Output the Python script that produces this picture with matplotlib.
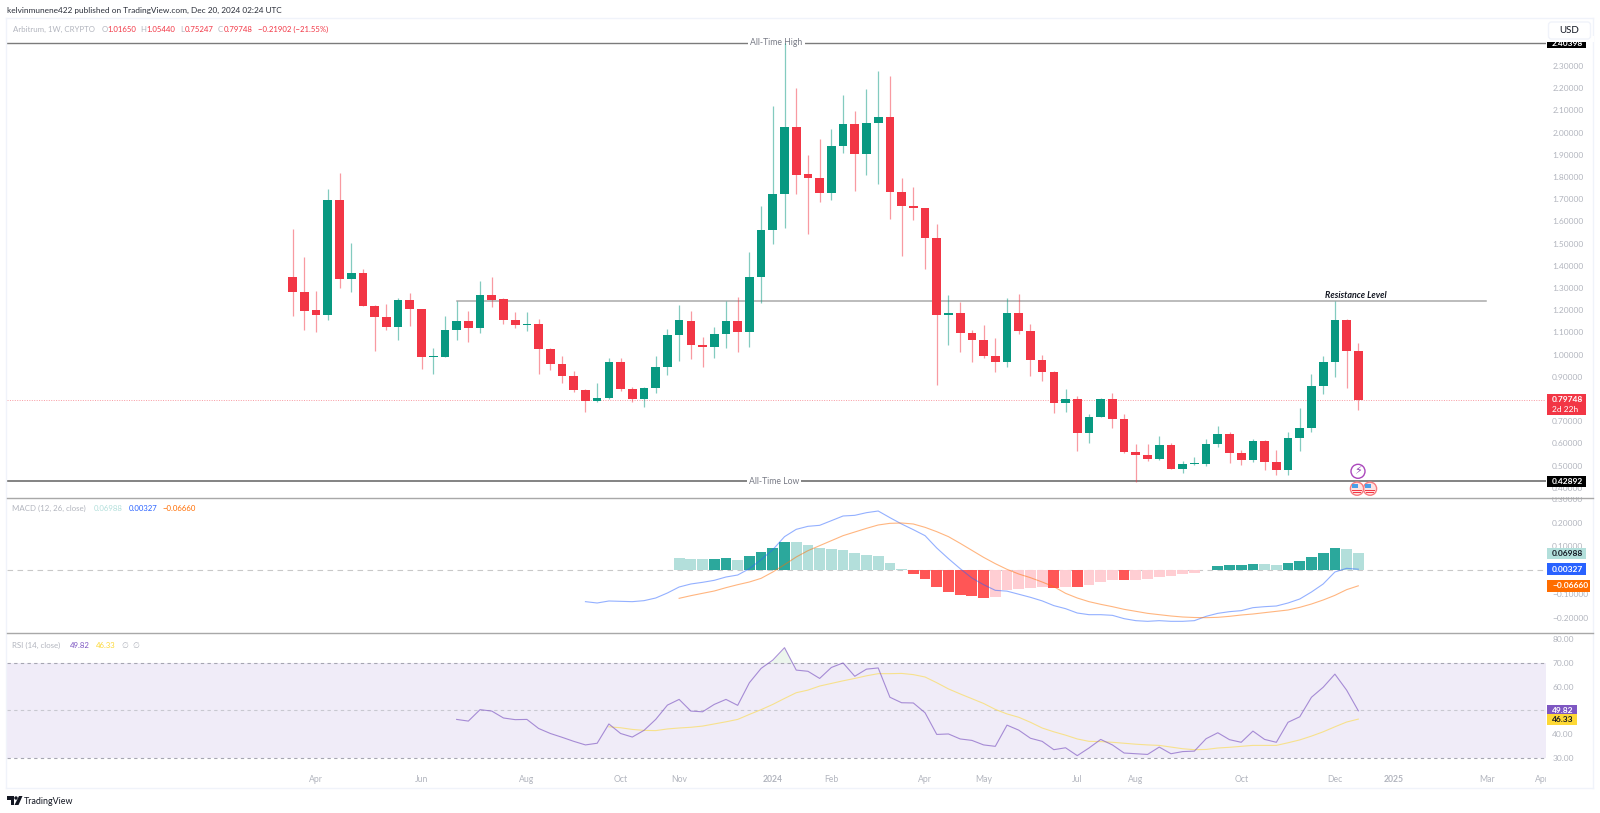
import matplotlib
matplotlib.use("Agg")
import matplotlib.pyplot as plt
import numpy as np
from matplotlib.patches import Rectangle, Circle, Polygon, FancyBboxPatch

plt.rcParams['font.family'] = ['Lato', 'DejaVu Sans']

# weekly candles
opens = [1.351,1.280,1.199,1.180,1.696,1.339,1.368,1.220,1.168,1.124,1.246,1.205,0.989,0.989,1.111,1.150,
         1.121,1.270,1.249,1.156,1.133,1.139,1.027,0.956,0.904,0.841,0.791,0.803,0.965,0.844,0.800,0.851,
         0.946,1.087,1.153,1.043,1.034,1.094,1.153,1.102,1.351,1.560,1.722,2.027,1.812,1.797,1.726,1.940,
         2.039,1.902,2.042,2.070,1.734,1.669,1.659,1.527,1.177,1.186,1.099,1.067,0.994,0.968,1.189,1.108,
         0.977,0.921,0.782,0.798,0.647,0.720,0.801,0.711,0.561,0.548,0.531,0.594,0.485,0.506,0.507,0.597,
         0.642,0.558,0.525,0.611,0.516,0.479,0.626,0.669,0.860,0.965,1.156,1.0165]
highs = [1.566,1.441,1.286,1.744,1.817,1.501,1.386,1.225,1.228,1.253,1.276,1.207,1.031,1.174,1.243,1.196,
         1.332,1.350,1.253,1.193,1.193,1.162,1.031,0.994,0.926,0.844,0.871,0.983,0.985,0.853,0.853,0.994,
         1.115,1.222,1.196,1.081,1.123,1.243,1.258,1.464,1.669,2.118,2.404,2.202,1.898,1.971,2.018,2.171,
         2.099,2.195,2.278,2.255,1.797,1.755,1.660,1.588,1.267,1.238,1.111,1.132,1.073,1.256,1.271,1.138,
         0.997,0.925,0.845,0.812,0.732,0.803,0.825,0.731,0.597,0.597,0.633,0.600,0.521,0.540,0.620,0.680,
         0.651,0.570,0.618,0.615,0.569,0.650,0.759,0.911,0.994,1.243,1.159,1.0544]
lows = [1.174,1.111,1.102,1.154,1.302,1.283,1.218,1.018,1.111,1.067,1.129,0.934,0.913,0.987,1.064,1.058,
        1.096,1.213,1.139,1.118,1.108,0.913,0.931,0.874,0.832,0.742,0.785,0.799,0.838,0.788,0.766,0.829,
        0.908,0.973,0.980,0.946,0.985,1.030,1.013,1.033,1.231,1.497,1.572,1.723,1.543,1.689,1.696,1.907,
        1.735,1.808,1.767,1.612,1.446,1.608,1.384,0.865,1.043,1.012,0.967,0.983,0.923,0.946,1.093,0.902,
        0.880,0.739,0.741,0.566,0.603,0.719,0.671,0.555,0.428,0.519,0.527,0.484,0.467,0.501,0.500,0.585,
        0.513,0.503,0.515,0.480,0.459,0.459,0.566,0.650,0.824,0.899,0.850,0.75247]
closes = [1.280,1.196,1.180,1.696,1.341,1.368,1.220,1.168,1.124,1.246,1.205,0.989,0.992,1.111,1.150,1.121,
          1.270,1.247,1.154,1.133,1.136,1.027,0.956,0.904,0.841,0.793,0.805,0.965,0.844,0.799,0.851,0.946,
          1.087,1.156,1.043,1.034,1.094,1.153,1.102,1.351,1.560,1.722,2.027,1.811,1.797,1.726,1.940,2.039,
          1.902,2.042,2.070,1.734,1.668,1.660,1.527,1.177,1.187,1.099,1.067,0.994,0.968,1.189,1.108,0.977,
          0.922,0.782,0.798,0.647,0.720,0.801,0.711,0.560,0.548,0.531,0.594,0.485,0.506,0.510,0.597,0.642,
          0.558,0.525,0.611,0.518,0.479,0.626,0.669,0.860,0.965,1.156,1.016,0.79748]

# macd panel
macd_hist = [0.0505,0.0477,0.0449,0.0463,0.0505,0.0435,0.0604,0.0758,0.0940,0.1193,0.1179,0.1067,0.0912,0.0898,
             0.0856,0.0716,0.0646,0.0604,0.0309,0.0056,-0.0168,-0.0365,-0.0730,-0.0926,-0.1053,-0.1109,-0.1165,
             -0.1137,-0.0856,-0.0800,-0.0758,-0.0730,-0.0772,-0.0702,-0.0730,-0.0646,-0.0519,-0.0433,-0.0440,
             -0.0407,-0.0379,-0.0281,-0.0239,-0.0182,-0.0112,-0.0014,0.0154,0.0196,0.0197,0.0267,0.0253,0.0211,
             0.0309,0.0393,0.0533,0.0702,0.0912,0.0884,0.06988]
macd_line = [-0.1333,-0.1389,-0.1305,-0.1319,-0.1333,-0.1291,-0.1179,-0.0968,-0.0716,-0.0589,-0.0519,-0.0435,
             -0.0295,-0.0211,0.0056,0.0435,0.0856,0.1404,0.1712,0.1839,0.1881,0.2077,0.2274,0.2302,0.2414,
             0.2484,0.2204,0.1937,0.1698,0.1446,0.0926,0.0477,0.0056,-0.0337,-0.0618,-0.0856,-0.089,-0.102,
             -0.115,-0.130,-0.150,-0.1628,-0.1811,-0.1881,-0.1881,-0.1909,-0.2049,-0.2133,-0.2161,-0.2133,
             -0.2161,-0.2161,-0.2133,-0.1951,-0.1825,-0.1754,-0.1712,-0.1586,-0.1544,-0.1516,-0.1389,-0.1221,
             -0.0926,-0.0589,-0.0084,0.0070,0.00327]
macd_signal = [-0.1193,-0.1081,-0.0982,-0.0884,-0.0744,-0.0618,-0.0505,-0.0351,-0.0084,0.0225,0.0547,0.0814,
               0.1025,0.1235,0.1446,0.1600,0.1754,0.1895,0.1965,0.1979,0.1937,0.1796,0.1614,0.1404,0.1123,
               0.0828,0.0533,0.0267,0.0028,-0.0168,-0.0323,-0.0505,-0.0702,-0.0982,-0.1179,-0.1333,-0.1445,
               -0.1544,-0.1656,-0.1740,-0.1825,-0.1881,-0.1937,-0.1979,-0.2000,-0.2007,-0.1993,-0.1951,-0.1895,
               -0.1853,-0.1796,-0.1740,-0.1684,-0.1572,-0.1432,-0.1263,-0.1067,-0.0828,-0.0666]

# rsi panel
rsi_line = [46.2,45.5,50.3,49.7,46.8,46.1,46.2,42.4,40.3,38.7,37.0,35.5,36.2,44.3,40.3,38.8,41.6,46.2,52.2,54.6,
            49.7,49.4,52.5,54.6,52.1,61.6,67.6,71.1,76.3,66.9,66.4,63.4,68.0,69.9,64.3,67.3,67.8,55.5,53.2,53.1,
            49.0,39.9,40.1,38.0,37.4,35.5,34.9,43.8,41.7,38.3,37.0,33.5,34.3,31.0,34.2,37.8,35.5,32.1,31.8,31.5,
            34.6,31.8,32.7,32.9,38.1,40.6,37.7,36.6,41.3,37.8,36.6,45.0,47.3,55.5,59.7,65.2,58.5,49.82]
rsi_ma = [43.1,42.7,42.0,41.6,41.5,42.2,42.6,42.9,43.4,44.3,45.2,46.2,48.3,50.3,52.5,55.0,57.4,58.5,60.2,61.3,
          62.4,63.4,64.5,65.4,65.4,65.5,65.0,64.0,61.6,59.0,56.9,54.9,52.9,50.4,48.5,47.1,45.0,42.6,41.0,39.6,
          38.0,37.0,36.9,36.6,36.2,35.8,35.5,35.3,34.6,33.9,33.5,33.6,34.2,34.5,34.9,35.3,35.3,35.3,36.4,37.6,
          39.2,41.0,43.1,45.1,46.33]

price_ticks = [0.4,0.5,0.6,0.7,0.8,0.9,1.0,1.1,1.2,1.3,1.4,1.5,1.6,1.7,1.8,1.9,2.0,2.1,2.2,2.3,2.4]
macd_ticks = [-0.2,-0.1,0.1,0.2,0.3]
rsi_ticks = [30,40,50,60,70,80]
time_pos = [2,11,20,28,33,41,46,54,59,67,72,81,89,94,102,106.7]
time_labels = ['Apr','Jun','Aug','Oct','Nov','2024','Feb','Apr','May','Jul','Aug','Oct','Dec','2025','Mar','Apr']

ath = 2.40398
atl = 0.42892
resistance = 1.2417
last_close = 0.79748

GREEN = '#089981'
RED = '#F23645'
GREY = '#b2b5be'

W, H = 1600, 813
fig = plt.figure(figsize=(16, 8.13), dpi=100)

# bar index <-> pixels
X0 = 292.7
STEP = 11.71
PANE_L, PANE_R = 7, 1546
xlim = ((PANE_L - X0) / STEP, (PANE_R - X0) / STEP)

def make_pane(top, bottom, ylim):
  ax = fig.add_axes([PANE_L / W, 1 - bottom / H, (PANE_R - PANE_L) / W, (bottom - top) / H])
  ax.set_xlim(xlim)
  ax.set_ylim(ylim)
  ax.patch.set_alpha(0)
  for s in ax.spines.values():
    s.set_visible(False)
  ax.xaxis.set_visible(False)
  ax.yaxis.tick_right()
  ax.tick_params(axis='y', length=0, pad=4.5, labelsize=6.0, labelcolor=GREY)
  return ax

def to_y(val, y_ref, scale, v_ref):
  return y_ref + (v_ref - val) * scale

# price pane
PRICE = dict(y_ref=66, scale=222.0, v_ref=2.3)
ax1 = make_pane(18, 497.7, (2.3 - (497.7 - 66) / 222, 2.3 + 48 / 222))
n = len(opens)
xs = np.arange(n)
colors = [GREEN if closes[i] >= opens[i] else RED for i in range(n)]
ax1.vlines(xs, lows, highs, colors=colors, lw=0.9, alpha=0.5, zorder=6)
ax1.bar(xs, np.abs(np.array(closes) - np.array(opens)), bottom=np.minimum(opens, closes),
        width=0.74, color=colors, edgecolor='none', zorder=7)
ax1.axhline(ath, color='#7b7b7b', lw=1.0, zorder=2)
ax1.axhline(atl, color='#6e6e6e', lw=1.2, zorder=2)
ax1.plot([14, 101.9], [resistance, resistance], color='#a9a9a9', lw=1.1, zorder=2)
ax1.axhline(last_close, color=RED, lw=0.7, ls=(0, (1, 1.5)), alpha=0.5, zorder=2)
ax1.set_yticks(price_ticks)
ax1.set_yticklabels(['%.5f' % t for t in price_ticks])
ax1.text(41.3, ath, 'All-Time High', ha='center', va='center', fontsize=6.2, color='#787b86', zorder=5,
         bbox=dict(fc='white', ec='none', pad=1.5))
ax1.text(41.1, atl, 'All-Time Low', ha='center', va='center', fontsize=6.2, color='#787b86', zorder=5,
         bbox=dict(fc='white', ec='none', pad=1.5))
ax1.text(90.8, resistance + 0.002, 'Resistance Level', ha='center', va='bottom', fontsize=6.4, style='italic',
         fontweight='bold', color='#131722', zorder=5)

# macd pane
MACD = dict(y_ref=570, scale=237.5, v_ref=0)
ax2 = make_pane(497.7, 633.3, ((570 - 633.3) / 237.5, (570 - 497.7) / 237.5))
hist_x = np.arange(n - len(macd_hist), n)
hist_cols = []
for i, v in enumerate(macd_hist):
  rising = i > 0 and v > macd_hist[i - 1]
  if v >= 0:
    hist_cols.append('#26a69a' if rising else '#b2dfdb')
  else:
    hist_cols.append('#ffcdd2' if rising else '#ff5252')
ax2.bar(hist_x, macd_hist, width=0.92, color=hist_cols, edgecolor='none', alpha=0.98, zorder=2)
ax2.axhline(0, color='#c8c8c8', lw=0.8, ls=(0, (5, 4)), zorder=1)
ax2.plot(np.arange(n - len(macd_line), n), macd_line, color='#2962ff', lw=0.8, alpha=0.5, zorder=3)
ax2.plot(np.arange(n - len(macd_signal), n), macd_signal, color='#ff6d00', lw=0.8, alpha=0.5, zorder=3)
ax2.set_yticks(macd_ticks)
ax2.set_yticklabels([('%.5f' % t).replace('-', '\u2212') for t in macd_ticks])

# rsi pane
RSI = dict(y_ref=662.7, scale=2.383, v_ref=70)
ax3 = make_pane(633.3, 788, (70 - (788 - 662.7) / 2.383, 70 + (662.7 - 633.3) / 2.383))
ax3.axhspan(30, 70, color='#7e57c2', alpha=0.11, lw=0, zorder=1)
rsi_x = np.arange(n - len(rsi_line), n)
ax3.fill_between(rsi_x, 70, rsi_line, where=np.array(rsi_line) > 70, interpolate=True, color='#4caf50', alpha=0.1, lw=0)
for lev, c in [(70, '#a6a6b2'), (30, '#a6a6b2'), (50, '#c8c8d0')]:
  ax3.axhline(lev, color=c, lw=0.8, ls=(0, (3, 3)), zorder=2)
ax3.plot(rsi_x, rsi_line, color='#7e57c2', lw=0.8, alpha=0.65, zorder=4)
ax3.plot(np.arange(n - len(rsi_ma), n), rsi_ma, color='#fdd835', lw=0.8, alpha=0.55, zorder=3)
ax3.set_yticks(rsi_ticks)
ax3.set_yticklabels(['%.2f' % t for t in rsi_ticks])
trans = ax3.get_xaxis_transform()
for p, lab in zip(time_pos, time_labels):
  ax3.text(p, (788 - 779) / (788 - 633.3), lab, transform=trans, ha='center', va='center',
           fontsize=6.2, color=GREY, clip_on=True, fontweight='bold' if lab in ('2024', '2025') else 'normal')

# overlay in pixel coordinates for frame, tags, legend text
ov = fig.add_axes([0, 0, 1, 1], zorder=10)
ov.set_xlim(0, W)
ov.set_ylim(H, 0)
ov.axis('off')

for a, b, c, d in [(6, 18, 1593, 18), (1593, 18, 1593, 788), (6, 788, 1593, 788), (6, 18, 6, 788)]:
  ov.plot([a, c], [b, d], color='#f0f3fa', lw=1.0)
ov.plot([7, 1593], [497.7, 497.7], color='#a8a8a8', lw=1.0)
ov.plot([7, 1593], [633.3, 633.3], color='#a8a8a8', lw=1.0)
ov.add_patch(Rectangle((1550, 491.5), 40, 5.5, fc='white', ec='none'))

def tag(y0, y1, x1, col):
  ov.add_patch(Rectangle((1547, y0), x1 - 1547, y1 - y0, fc=col, ec='none', zorder=5))

def tag_text(y, s, col, fs=6.0, **kw):
  ov.text(1552, y, s, color=col, fontsize=fs, va='center', ha='left', zorder=6, **kw)

y = to_y(ath, **PRICE)
tag(y - 5, y + 5.5, 1585.7, 'black')
tag_text(y + 0.5, '%.5f' % ath, 'white', fontweight='bold')
ov.add_patch(Rectangle((1546, 36), 48, 5.7, fc='white', ec='none', zorder=7))
ov.add_patch(FancyBboxPatch((1548.5, 22), 42, 17, boxstyle='round,pad=0,rounding_size=3', fc='white', ec='#f0f3fa', lw=1, zorder=8))
ov.text(1569, 30.5, 'USD', fontsize=7.0, color='#131722', ha='center', va='center', zorder=9)

y = to_y(last_close, **PRICE)
tag(y - 5.5, y + 15.5, 1585.7, RED)
tag_text(y, '%.5f' % last_close, 'white', fontweight='bold')
tag_text(y + 10, '2d 22h', 'white')

y = to_y(atl, **PRICE)
tag(y - 5.7, y + 5.7, 1585.7, 'black')
tag_text(y, '%.5f' % atl, 'white', fontweight='bold')

y = to_y(macd_hist[-1], **MACD)
tag(y - 5.8, y + 5.8, 1585.7, '#b2dfdb')
tag_text(y, '%.5f' % macd_hist[-1], '#131722', fontweight='bold')
y = to_y(macd_line[-1], **MACD)
tag(y - 5.8, y + 5.8, 1585.7, '#2962ff')
tag_text(y, '%.5f' % macd_line[-1], 'white', fontweight='bold')
y = to_y(macd_signal[-1], **MACD)
tag(y - 5.8, y + 5.8, 1590, '#ff6d00')
tag_text(y, '\u2212%.5f' % abs(macd_signal[-1]), 'white', fontweight='bold')

y = to_y(rsi_line[-1], **RSI)
tag(y - 5.6, y + 5.6, 1576.5, '#7e57c2')
tag_text(y, '%.2f' % rsi_line[-1], 'white', fontweight='bold')
y = to_y(rsi_ma[-1], **RSI)
tag(y - 5.6, y + 5.6, 1576.5, '#fdd835')
tag_text(y, '%.2f' % rsi_ma[-1], '#131722', fontweight='bold')

# event icons
ov.add_patch(Circle((1358, 471.3), 7, fc='white', ec='#ab47bc', lw=1.0, zorder=5))
ov.text(1358, 471.3, '\u26a1', fontsize=8, color='#8e44ad', ha='center', va='center', family='DejaVu Sans', zorder=6)
for cx in (1370, 1357):
  ov.add_patch(Circle((cx, 488.7), 6.6, fc='#ffe3e3', ec='#f77c80', lw=1.0, zorder=5))
  ov.add_patch(Rectangle((cx - 5, 484), 6, 4.2, fc='#4a9fe8', ec='none', zorder=6))
  ov.add_patch(Rectangle((cx - 5, 489.5), 10, 1.2, fc='#f23645', ec='none', zorder=6))
  ov.add_patch(Rectangle((cx - 4, 492), 8, 1.0, fc='#f23645', ec='none', zorder=6))

# header + legends
ov.text(7, 10, 'kelvinmunene422 published on TradingView.com, Dec 20, 2024 02:24 UTC', fontsize=5.95, color='#2a2e39', va='center')
LEG_Y = 29.3
ov.text(12.7, LEG_Y, 'Arbitrum, 1W, CRYPTO', fontsize=5.7, color=GREY, va='center')
for x_l, lab, x_v, val in [(101.7, 'O', 107.3, opens[-1]), (140.7, 'H', 146.7, highs[-1]),
                           (180, 'L', 185, lows[-1]), (218, 'C', 224, closes[-1])]:
  ov.text(x_l, LEG_Y, lab, fontsize=5.6, color=GREY, va='center')
  ov.text(x_v, LEG_Y, '%.5f' % val, fontsize=5.6, color=RED, va='center')
ov.text(257.7, LEG_Y, '\u22120.21902 (\u221221.55%)', fontsize=5.6, color=RED, va='center')

ov.text(12, 508.3, 'MACD (12, 26, close)', fontsize=5.7, color=GREY, va='center')
ov.text(94, 508.3, '%.5f' % macd_hist[-1], fontsize=5.6, color='#b2dfdb', va='center')
ov.text(128.6, 508.3, '%.5f' % macd_line[-1], fontsize=5.6, color='#2962ff', va='center')
ov.text(162.6, 508.3, '\u2212%.5f' % abs(macd_signal[-1]), fontsize=5.6, color='#ff6d00', va='center')

ov.text(12.2, 645, 'RSI (14, close)', fontsize=5.7, color=GREY, va='center')
ov.text(70, 645, '%.2f' % rsi_line[-1], fontsize=5.6, color='#7e57c2', va='center')
ov.text(95.4, 645, '%.2f' % rsi_ma[-1], fontsize=5.6, color='#fdd835', va='center')
ov.text(121, 645, '\u2205', fontsize=5.6, color=GREY, va='center')
ov.text(132.6, 645, '\u2205', fontsize=5.6, color=GREY, va='center')

# logo
ov.add_patch(Polygon([(7, 796), (14, 796), (14, 805), (10.5, 805), (10.5, 799.5), (7, 799.5)], fc='#131722', ec='none'))
ov.add_patch(Circle((16, 798), 1.7, fc='#131722', ec='none'))
ov.add_patch(Polygon([(19, 796), (22.5, 796), (18.5, 805), (14.5, 805)], fc='#131722', ec='none'))
ov.text(23.5, 801, 'TradingView', fontsize=6.4, color='#131722', va='center')

fig.savefig('out.png', dpi=100, facecolor='white')
